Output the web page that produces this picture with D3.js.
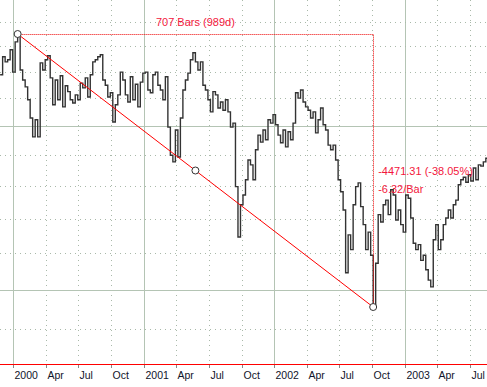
<!DOCTYPE html>
<html>
<head>
<meta charset="utf-8">
<script src="https://cdn.jsdelivr.net/npm/d3@7"></script>
<style>
  html, body { margin: 0; padding: 0; background: #fff; }
  svg { display: block; font-family: "Liberation Sans", Arial, sans-serif; }
</style>
</head>
<body>
<script>
// weekly closes (index 0 = week of 1999-11-26)
var firstWeek = new Date(1999, 10, 26);
var closes = [10940, 11290, 11190, 11230, 11430, 10990, 11590, 11750.28, 11030, 10840,
  10710, 10470, 10140, 9810, 10110, 9810, 11170, 11030, 11230, 11310,
  10880, 10380, 10840, 10470, 10920, 10340, 10730, 10620, 10470, 10410,
  10560, 10470, 10780, 10690, 10880, 10520, 10940, 11190, 11230, 11290,
  11330, 10840, 10740, 10520, 10600, 10070, 10380, 10560, 10990, 10840,
  10560, 10430, 10900, 10470, 10760, 10340, 10800, 10970, 10990, 10650,
  10600, 10940, 10990, 10740, 10650, 10470, 10900, 9980, 9500, 9390,
  9930, 9470, 10140, 10650, 10840, 10970, 11230, 11370, 11190, 11030,
  11190, 10740, 10650, 10470, 10250, 10620, 10560, 10320, 10430, 10280,
  10470, 10250, 9980, 10050, 8990, 8230, 8710, 8860, 9100, 9420,
  9340, 9100, 9590, 9840, 9720, 9930, 9760, 10110, 10050, 10200,
  10020, 9840, 9710, 9930, 9640, 9900, 9760, 10050, 10600, 10500,
  10650, 10430, 10340, 10280, 10140, 10250, 9880, 10110, 10320, 10020,
  9930, 9670, 9590, 9670, 9420, 9100, 8910, 8630, 7730, 8260,
  8050, 8710, 8990, 9050, 8680, 8410, 8050, 8300, 7970, 7278.97,
  7860, 8560, 8450, 8710, 8780, 8560, 8940, 8860, 8480, 8630,
  8410, 8300, 8860, 8810, 8510, 8140, 8050, 8120, 7900, 7970,
  7770, 7630, 7540, 8190, 8410, 8050, 8190, 8410, 8510, 8630,
  8510, 8710, 8780, 9020, 9100, 9140, 9060, 9180, 9080, 9290,
  9100, 9340, 9320, 9390, 9450, 9450];

var monthNames = ["Apr", "Jul", "Oct"];
var gridValues = d3.range(7000, 12501, 500);
var barsLabel = "707 Bars (989d)";
var changeLabel = "-4471.31 (-38.05%)";
var perBarLabel = "-6.32/Bar";

var width = 487, height = 387;
var axisY = 364;
var gridColor = "#b4c4b4";

var svg = d3.select("body").append("svg")
  .attr("width", width)
  .attr("height", height);

var data = closes.map(function(v, i){ return {date: d3.timeDay.offset(firstWeek, 7 * i), value: v}; });

var x = d3.scaleTime()
  .domain([new Date(2000, 0, 1), new Date(2003, 0, 1)])
  .range([13, 405]);
var y = d3.scaleLog()
  .domain([7278.97, 11750.28])
  .range([307, 34]);

var quarters = d3.timeMonth.every(3).range(new Date(1999, 9, 1), new Date(2003, 9, 1))
  .filter(function(d){ return x(d) >= 0 && x(d) <= width; });

// vertical grid
svg.append("g").selectAll("line").data(quarters).enter().append("line")
  .attr("x1", function(d){ return Math.round(x(d)) + 0.5; })
  .attr("x2", function(d){ return Math.round(x(d)) + 0.5; })
  .attr("y1", 0).attr("y2", axisY)
  .attr("stroke", function(d){ return d.getMonth() === 0 ? gridColor : "#a9b9a9"; })
  .attr("stroke-dasharray", function(d){ return d.getMonth() === 0 ? null : "1,4"; });

// horizontal grid (solid every 2500)
svg.append("g").selectAll("line").data(gridValues).enter().append("line")
  .attr("x1", 0).attr("x2", width)
  .attr("y1", function(d){ return Math.round(y(d)) + 0.5; })
  .attr("y2", function(d){ return Math.round(y(d)) + 0.5; })
  .attr("stroke", function(d){ return d % 2500 === 0 ? gridColor : "#a9b9a9"; })
  .attr("stroke-dasharray", function(d){ return d % 2500 === 0 ? null : "1,4"; });

// price line
var line = d3.line()
  .x(function(d){ return x(d.date); })
  .y(function(d){ return y(d.value); })
  .curve(d3.curveStepAfter);
svg.append("path").datum(data)
  .attr("d", line)
  .attr("fill", "none")
  .attr("stroke", "#333")
  .attr("stroke-width", 1.4);

// measurement overlay
var hi = data[d3.maxIndex(data, function(d){ return d.value; })];
var lo = data[d3.minIndex(data, function(d){ return d.value; })];
var x1 = x(hi.date), y1 = y(hi.value), x2 = x(lo.date), y2 = y(lo.value);
var xm = (x1 + x2) / 2, ym = (y1 + y2) / 2;

svg.append("path")
  .attr("d", "M" + x1 + "," + (Math.round(y1) + 0.5) + "H" + (Math.round(x2) + 0.5) + "V" + y2)
  .attr("fill", "none")
  .attr("stroke", "#e00")
  .attr("stroke-dasharray", "1,1");

svg.append("line")
  .attr("x1", x1).attr("y1", y1).attr("x2", x2).attr("y2", y2)
  .attr("stroke", "#f00");

svg.selectAll(".handle").data([[x1, y1], [xm, ym], [x2, y2]]).enter().append("circle")
  .attr("class", "handle")
  .attr("cx", function(d){ return d[0]; })
  .attr("cy", function(d){ return d[1]; })
  .attr("r", 3.5)
  .attr("fill", "#fff")
  .attr("stroke", "#333");

svg.append("text")
  .attr("x", xm).attr("y", y1 - 8)
  .attr("text-anchor", "middle")
  .attr("font-size", 11)
  .attr("fill", "#f3163c")
  .text(barsLabel);

svg.append("text")
  .attr("x", x2 + 5).attr("y", ym + 4)
  .attr("font-size", 11)
  .attr("fill", "#f3163c")
  .text(changeLabel);

svg.append("text")
  .attr("x", x2 + 5).attr("y", ym + 22)
  .attr("font-size", 11)
  .attr("fill", "#f3163c")
  .text(perBarLabel);

// time axis
svg.append("rect").attr("x", 0).attr("y", axisY + 1).attr("width", width).attr("height", height - axisY)
  .attr("fill", "#fff");
svg.append("line")
  .attr("x1", 0).attr("x2", width)
  .attr("y1", axisY + 0.5).attr("y2", axisY + 0.5)
  .attr("stroke", "#f00");

var ticks = svg.append("g").selectAll("g").data(quarters).enter().append("g")
  .attr("transform", function(d){ return "translate(" + (Math.round(x(d)) + 0.5) + ",0)"; });
ticks.append("line")
  .attr("y1", axisY + 1).attr("y2", axisY + 4)
  .attr("stroke", "#888");
ticks.append("text")
  .attr("x", 1).attr("y", axisY + 15)
  .attr("font-size", 10.5)
  .attr("fill", "#10142a")
  .text(function(d){ return d.getMonth() === 0 ? d3.timeFormat("%Y")(d) : monthNames[d.getMonth() / 3 - 1]; });
</script>
</body>
</html>
